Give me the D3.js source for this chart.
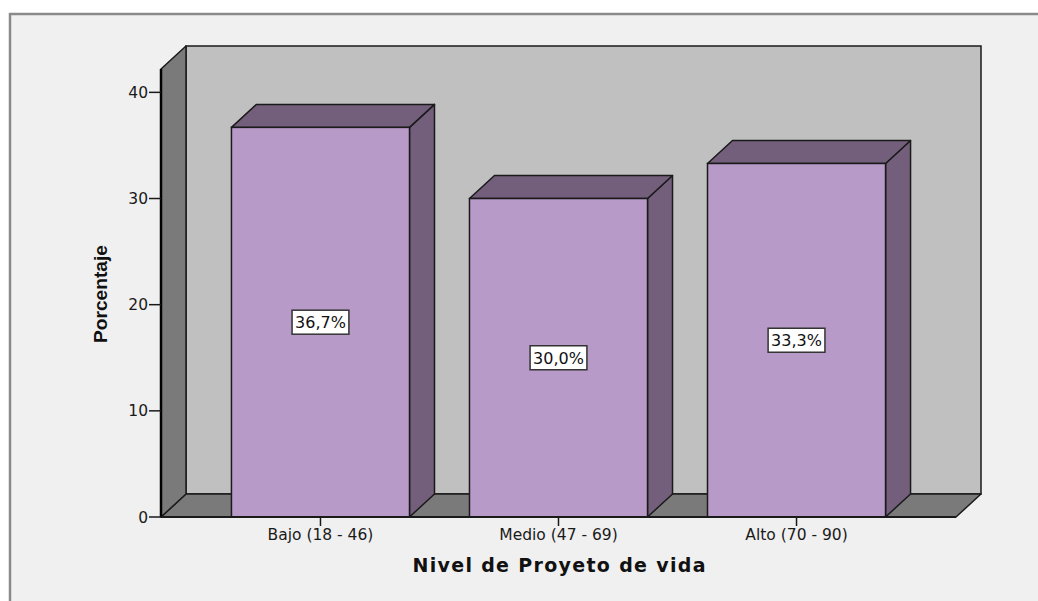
<!DOCTYPE html>
<html>
<head>
<meta charset="utf-8">
<script src="https://cdn.jsdelivr.net/npm/d3@7"></script>
<style>
  html, body { margin: 0; padding: 0; background: #ffffff; }
  svg { display: block; }
</style>
</head>
<body>
<div id="chart"></div>
<script>
const categories = ['Bajo (18 - 46)', 'Medio (47 - 69)', 'Alto (70 - 90)'];
const percentages = [36.7, 30.0, 33.3];
const valueLabels = ['36,7%', '30,0%', '33,3%'];
const yTicks = [0, 10, 20, 30, 40];

const width = 1038;
const height = 601;
const depthX = 25;
const depthY = 23;

const svg = d3.select('#chart').append('svg').attr('width', width).attr('height', height);

// outer frame
svg.append('rect')
  .attr('x', 10).attr('y', 14)
  .attr('width', width + 20).attr('height', height + 20)
  .attr('fill', '#f0f0f0')
  .attr('stroke', '#8a8a8a')
  .attr('stroke-width', 2.5);

const x = d3.scaleBand().domain(categories).range([161, 956]).paddingInner(0.252).paddingOuter(0.296);
const y = d3.scaleLinear().domain([0, 42.2]).range([517, 69]);

const [x0, x1] = x.range();
const y0 = y(0);
const yTop = y(42.2);
const stroke = '#1a1a1a';

/* Walls
=========================================================================*/
svg.append('rect')
  .attr('x', x0 + depthX).attr('y', yTop - depthY)
  .attr('width', x1 - x0).attr('height', y0 - yTop)
  .attr('fill', '#c0c0c0').attr('stroke', stroke).attr('stroke-width', 1.5);

svg.append('path')
  .attr('d', `M${x0},${y0}L${x1},${y0}L${x1 + depthX},${y0 - depthY}L${x0 + depthX},${y0 - depthY}Z`)
  .attr('fill', '#7a7a7a').attr('stroke', stroke).attr('stroke-width', 1.5)
  .attr('stroke-linejoin', 'round');

svg.append('path')
  .attr('d', `M${x0},${y0}L${x0},${yTop}L${x0 + depthX},${yTop - depthY}L${x0 + depthX},${y0 - depthY}Z`)
  .attr('fill', '#7a7a7a').attr('stroke', stroke).attr('stroke-width', 1.5)
  .attr('stroke-linejoin', 'round');

/* Bars
=========================================================================*/
const bars = svg.selectAll('g.bar')
  .data(categories.map((c, i) => ({ c, v: percentages[i], label: valueLabels[i] })))
  .enter().append('g').attr('class', 'bar');

bars.append('path')
  .attr('d', d => {
    const a = x(d.c) + x.bandwidth();
    const t = y(d.v);
    return `M${a},${y0}L${a},${t}L${a + depthX},${t - depthY}L${a + depthX},${y0 - depthY}Z`;
  })
  .attr('fill', '#735f7b').attr('stroke', stroke).attr('stroke-width', 1.5).attr('stroke-linejoin', 'round');

bars.append('path')
  .attr('d', d => {
    const a = x(d.c);
    const b = a + x.bandwidth();
    const t = y(d.v);
    return `M${a},${t}L${a + depthX},${t - depthY}L${b + depthX},${t - depthY}L${b},${t}Z`;
  })
  .attr('fill', '#735f7b').attr('stroke', stroke).attr('stroke-width', 1.5).attr('stroke-linejoin', 'round');

bars.append('rect')
  .attr('x', d => x(d.c))
  .attr('y', d => y(d.v))
  .attr('width', x.bandwidth())
  .attr('height', d => y0 - y(d.v))
  .attr('fill', '#b89ac8').attr('stroke', stroke).attr('stroke-width', 1.5);

/* Axes
=========================================================================*/
const yAxis = svg.append('g');
yAxis.append('line')
  .attr('x1', x0).attr('x2', x0).attr('y1', y0).attr('y2', yTop)
  .attr('stroke', '#000').attr('stroke-width', 2.5);
yAxis.selectAll('line.tick').data(yTicks).enter().append('line')
  .attr('class', 'tick')
  .attr('x1', x0 - 12).attr('x2', x0)
  .attr('y1', d => y(d)).attr('y2', d => y(d))
  .attr('stroke', '#1a1a1a').attr('stroke-width', 1.5);
yAxis.selectAll('text').data(yTicks).enter().append('text')
  .attr('x', x0 - 13).attr('y', d => y(d))
  .attr('dy', '0.36em')
  .attr('text-anchor', 'end')
  .attr('font-family', 'DejaVu Sans, sans-serif')
  .attr('font-size', 15.5)
  .attr('fill', '#1a1a1a')
  .text(d => d);

svg.append('line')
  .attr('x1', x0).attr('x2', x1).attr('y1', y0).attr('y2', y0)
  .attr('stroke', '#1a1a1a').attr('stroke-width', 2);

const xAxis = svg.append('g');
xAxis.selectAll('line').data(categories).enter().append('line')
  .attr('x1', d => x(d) + x.bandwidth() / 2).attr('x2', d => x(d) + x.bandwidth() / 2)
  .attr('y1', y0).attr('y2', y0 + 9)
  .attr('stroke', '#1a1a1a').attr('stroke-width', 1.5);
xAxis.selectAll('text').data(categories).enter().append('text')
  .attr('x', d => x(d) + x.bandwidth() / 2).attr('y', y0 + 23)
  .attr('text-anchor', 'middle')
  .attr('font-family', 'DejaVu Sans, sans-serif')
  .attr('font-size', 15.5)
  .attr('fill', '#1a1a1a')
  .text(d => d);

svg.append('text')
  .attr('x', 559).attr('y', 572)
  .attr('text-anchor', 'middle')
  .attr('font-family', 'DejaVu Sans, sans-serif')
  .attr('font-weight', 'bold')
  .attr('font-size', 19)
  .attr('textLength', 293)
  .attr('lengthAdjust', 'spacing')
  .attr('fill', '#111')
  .text('Nivel de Proyeto de vida');

svg.append('text')
  .attr('transform', 'translate(107,294) rotate(-90)')
  .attr('text-anchor', 'middle')
  .attr('font-family', 'Liberation Sans, Arial, sans-serif')
  .attr('font-weight', 'bold')
  .attr('font-size', 19)
  .attr('textLength', 98)
  .attr('lengthAdjust', 'spacingAndGlyphs')
  .attr('fill', '#111')
  .text('Porcentaje');

/* Value labels
=========================================================================*/
bars.each(function (d) {
  const g = d3.select(this);
  const cx = x(d.c) + x.bandwidth() / 2;
  const cy = (y(d.v) + y0) / 2;
  const txt = g.append('text')
    .attr('x', cx).attr('y', cy)
    .attr('dy', '0.36em')
    .attr('text-anchor', 'middle')
    .attr('font-family', 'DejaVu Sans, sans-serif')
    .attr('font-size', 16)
    .attr('fill', '#111')
    .text(d.label);
  const bb = txt.node().getBBox();
  g.insert('rect', 'text')
    .attr('x', bb.x - 3).attr('y', cy - 12)
    .attr('width', bb.width + 6).attr('height', 24)
    .attr('fill', '#ffffff').attr('stroke', '#333').attr('stroke-width', 1.5);
});
</script>
</body>
</html>
